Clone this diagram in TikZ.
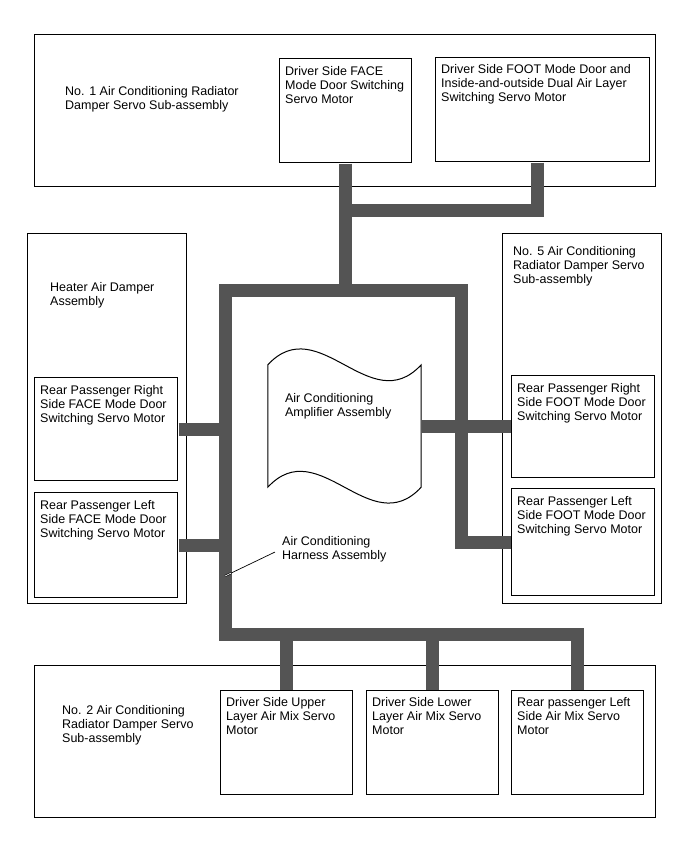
\documentclass[tikz,border=0pt]{standalone}
\usepackage{fontspec}
\setmainfont{Liberation Sans}
\usetikzlibrary{positioning, calc}
\definecolor{busgray}{RGB}{84,84,84}

\begin{document}
\begin{tikzpicture}[x=1pt, y=-1pt, node distance=6pt,
    unit/.style={draw, line width=1pt, inner sep=0pt, anchor=north west},
    servo/.style={unit, minimum width=132pt, minimum height=104pt},
    lbl/.style={font=\fontsize{12.5}{14}\selectfont, align=left, inner sep=0pt, anchor=north west},
    bus/.style={draw=busgray, line width=13pt, line join=miter, shorten <=0.5pt, shorten >=0.5pt},
    leader/.style={line width=0.7pt}]

    \useasboundingbox (0,0) rectangle (688,852);

    % sub-assemblies
    \node[unit, minimum width=621pt, minimum height=152pt] (no1) at (34,34) {};
    \node[unit, minimum width=159pt, minimum height=370pt] (heater) at (27,233) {};
    \node[unit, minimum width=159pt, minimum height=370pt] (no5) at (502,233) {};
    \node[unit, minimum width=621pt, minimum height=152pt] (no2) at (34,665) {};

    \node[lbl, below right=52pt and 31pt of no1.north west] (no1text) {No. 1 Air Conditioning Radiator\\Damper Servo Sub-assembly};
    \node[lbl, below right=49pt and 23pt of heater.north west] (heatertext) {Heater Air Damper\\Assembly};
    \node[lbl, below right=13pt and 11pt of no5.north west] (no5text) {No. 5 Air Conditioning\\Radiator Damper Servo\\Sub-assembly};
    \node[lbl, below right=40pt and 28pt of no2.north west] (no2text) {No. 2 Air Conditioning\\Radiator Damper Servo\\Sub-assembly};

    % servo motors
    \node[servo] (facemotor) at (279,58) {};
    \node[servo, minimum width=214pt] (footmotor) at (435,57) {};
    \node[servo, minimum width=143pt, minimum height=103pt] (rrface) at (34,377) {};
    \node[servo, minimum width=143pt, minimum height=105pt] (rlface) at (34,492) {};
    \node[servo, minimum width=143pt, minimum height=102pt] (rrfoot) at (511,375) {};
    \node[servo, minimum width=143pt, minimum height=107pt] (rlfoot) at (511,488) {};
    \node[servo] (uppermix) at (220,690) {};
    \node[servo, right=13pt of uppermix] (lowermix) {};
    \node[servo, right=12pt of lowermix] (rearmix) {};

    \node[lbl, below right=8pt and 6pt of facemotor.north west] (facetext) {Driver Side FACE\\Mode Door Switching\\Servo Motor};
    \node[lbl, below right=7pt and 6pt of footmotor.north west] (foottext) {Driver Side FOOT Mode Door and\\Inside-and-outside Dual Air Layer\\Switching Servo Motor};
    \node[lbl, below right=8pt and 6pt of rrface.north west] (rrfacetext) {Rear Passenger Right\\Side FACE Mode Door\\Switching Servo Motor};
    \node[lbl, below right=8pt and 6pt of rlface.north west] (rlfacetext) {Rear Passenger Left\\Side FACE Mode Door\\Switching Servo Motor};
    \node[lbl, below right=8pt and 6pt of rrfoot.north west] (rrfoottext) {Rear Passenger Right\\Side FOOT Mode Door\\Switching Servo Motor};
    \node[lbl, below right=8pt and 6pt of rlfoot.north west] (rlfoottext) {Rear Passenger Left\\Side FOOT Mode Door\\Switching Servo Motor};
    \node[lbl, below right=7pt and 6pt of uppermix.north west] (uppertext) {Driver Side Upper\\Layer Air Mix Servo\\Motor};
    \node[lbl, below right=7pt and 6pt of lowermix.north west] (lowertext) {Driver Side Lower\\Layer Air Mix Servo\\Motor};
    \node[lbl, below right=7pt and 6pt of rearmix.north west] (reartext) {Rear passenger Left\\Side Air Mix Servo\\Motor};

    % amplifier
    \node[minimum width=153pt, minimum height=122pt, inner sep=0pt] (amp) at (344.5,426) {};
    \draw[line width=1pt] (amp.north west) .. controls +(51,-55) and +(-51,55) .. (amp.north east)
        -- (amp.south east) .. controls +(-51,55) and +(51,-55) .. (amp.south west) -- cycle;
    \node[lbl, below right=28pt and 17pt of amp.north west] (amptext) {Air Conditioning\\Amplifier Assembly};

    % harness
    \coordinate (loopnw) at (225,290);
    \coordinate (loopne) at (461,290);
    \coordinate (loopsw) at (225,634);
    \coordinate (footx) at (537,210);

    \draw[bus] (facemotor.south) -- (facemotor.south |- loopnw);
    \draw[bus] (footmotor.south -| footx) -- (footx) -- (footx -| facemotor.south);
    \draw[bus] (rlfoot.west) -- (rlfoot.west -| loopne) -- (loopne) -- (loopnw) -- (loopsw)
        -- (loopsw -| rearmix.north) -- (rearmix.north);
    \draw[bus] (uppermix.north |- loopsw) -- (uppermix.north);
    \draw[bus] (lowermix.north |- loopsw) -- (lowermix.north);
    \draw[bus] (amp.east |- rrfoot.west) -- (rrfoot.west);
    \draw[bus] (rrface.east) -- (rrface.east -| loopnw);
    \draw[bus] (rlface.east) -- (rlface.east -| loopnw);

    \node[lbl] (harness) at (282,536) {Air Conditioning\\Harness Assembly};
    \coordinate (harnesspt) at (225,576);
    \coordinate (harnesstip) at ([xshift=-7pt,yshift=-3pt]harness.west);
    \draw[leader] (harnesspt) -- (harnesstip);
    \draw[line width=0.6pt, double=white, double distance=0.7pt] (harnesspt) -- ($(harnesspt)!0.12!(harnesstip)$);
\end{tikzpicture}
\end{document}
